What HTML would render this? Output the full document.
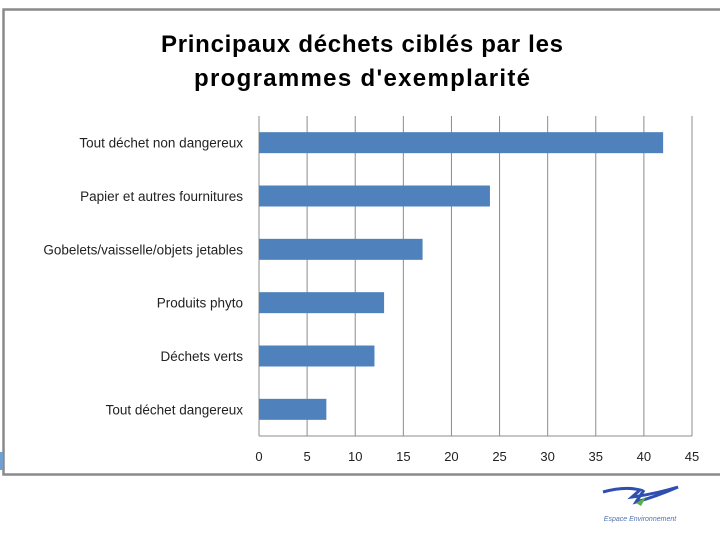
<!DOCTYPE html>
<html><head><meta charset="utf-8"><style>
body{margin:0;background:#fff;width:720px;height:540px;overflow:hidden;font-family:"Liberation Sans",sans-serif}
</style></head><body>
<svg width="720" height="540" id="svg">
<rect x="3.5" y="9.5" width="730" height="465" fill="#fff" stroke="#8a8a8a" stroke-width="2.5"/>
<rect x="0" y="452" width="3" height="18" fill="#6fa0d0"/>
<text x="362" y="52" text-anchor="middle" font-size="24" font-weight="bold" fill="#000" textLength="402">Principaux déchets ciblés par les</text>
<text x="362" y="86" text-anchor="middle" font-size="24" font-weight="bold" fill="#000" textLength="336">programmes d'exemplarité</text>
<g id="plot"></g>
<g>
<path d="M603 492 Q625 486 640 490 L632 497 Q655 494 678 487 Q655 497 636 502 L644 490" fill="none" stroke="#2f4fb0" stroke-width="3"/>
<path d="M636 503 L646 497 L641 506 Z" fill="#5cb040"/>
<text x="640" y="521" text-anchor="middle" font-size="7" font-style="italic" fill="#5070b0">Espace Environnement</text>
</g>
</svg>
<script>
const categories=["Tout déchet non dangereux","Papier et autres fournitures","Gobelets/vaisselle/objets jetables","Produits phyto","Déchets verts","Tout déchet dangereux"];
const values=[42,24,17,13,12,7];
const ticks=[0,5,10,15,20,25,30,35,40,45];
const ns="http://www.w3.org/2000/svg";
const g=document.getElementById('plot');
const x0=259,x1=692,yTop=116,yBot=436,xMax=45;
const xs=v=>x0+(v/xMax)*(x1-x0);
const band=(yBot-yTop)/categories.length;
function mk(t,a){const e=document.createElementNS(ns,t);for(const k in a)e.setAttribute(k,a[k]);g.appendChild(e);return e;}
ticks.forEach(t=>{
 const l=mk('line',{x1:xs(t),x2:xs(t),y1:yTop,y2:yBot,stroke:'#8c8c8c','stroke-width':1});
 
 
 const tx=mk('text',{x:xs(t),y:yBot+25,'text-anchor':'middle','font-size':13,fill:'#222'});
 tx.textContent=t;
 
 
});
const bl=mk('line',{x1:x0,x2:x1,y1:yBot,y2:yBot,stroke:'#8c8c8c','stroke-width':1});


categories.forEach((c,i)=>{
 const cy=yTop+band*(i+0.5);
 const r=mk('rect',{x:x0,y:cy-10.5,width:xs(values[i])-x0,height:21,fill:'#4f81bd'});
 
 
 const t=mk('text',{x:243,y:cy+5,'text-anchor':'end','font-size':13.5,fill:'#222'});
 t.textContent=c;
 
 
});
</script>
</body></html>
